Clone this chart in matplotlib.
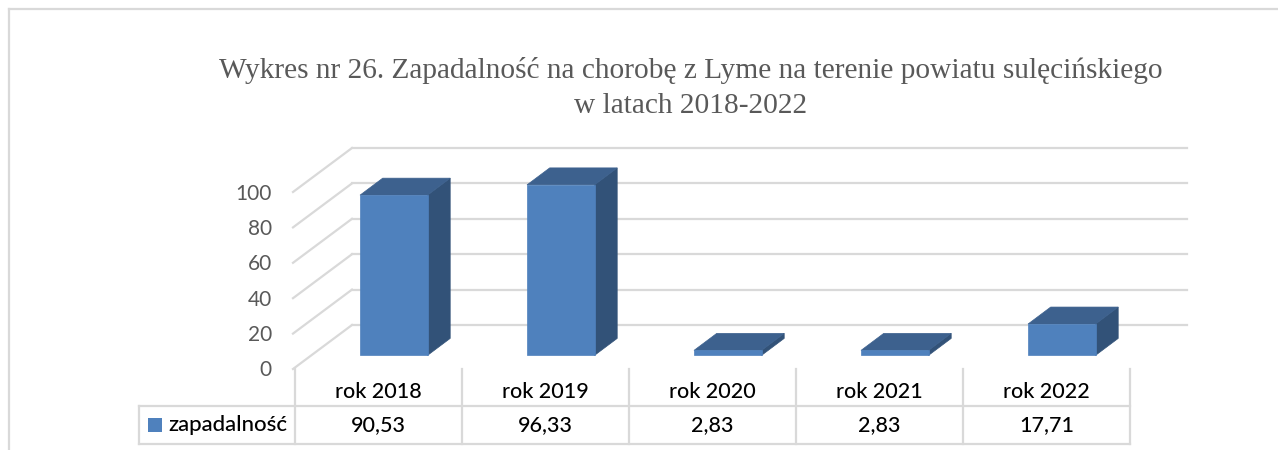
import matplotlib
matplotlib.use("Agg")
import matplotlib.pyplot as plt
from matplotlib.patches import Polygon

categories = ["rok 2018", "rok 2019", "rok 2020", "rok 2021", "rok 2022"]
values = [90.53, 96.33, 2.83, 2.83, 17.71]
value_labels = ["90,53", "96,33", "2,83", "2,83", "17,71"]
yticks = [0, 20, 40, 60, 80, 100]
series_name = "zapadalność"
title = "Wykres nr 26. Zapadalność na chorobę z Lyme na terenie powiatu sulęcińskiego\nw latach 2018-2022"

front = "#4f81bd"
side = "#325278"
top = "#3d618e"
grid = "#d9d9d9"
gray = "#595959"

W, H = 1278, 450
fig = plt.figure(figsize=(W / 100, H / 100), dpi=100)

# axes = front plane of the 3d box, depth is added by hand
ax = fig.add_axes([295 / W, (H - 369) / H, 835 / W, 177 / H])
ax.set_xlim(0, 5)
ax.set_ylim(0, 100)
ax.axis("off")

ux = 167.0   # px per category
uy = 1.77    # px per value unit

wall_dx = 57 / ux
wall_dy = 44 / uy
wall_end = (1187 - 295) / ux

for t in yticks:
    ax.plot([-2 / ux, wall_dx], [t, t + wall_dy], color=grid, lw=1.6, clip_on=False, zorder=1)
    ax.plot([wall_dx, wall_end], [t + wall_dy, t + wall_dy], color=grid, lw=1.6, clip_on=False, zorder=1)
    ax.text(-23 / ux, t - 1.5 / uy, str(t), ha="right", va="center", fontsize=15, color=gray, family="Lato")

bar_w = 67.5 / ux
bar_off = 65 / ux
base = 13.6 / uy
dx = 22.7 / ux
dy = 17 / uy

for i, v in enumerate(values):
    x0 = i + bar_off
    x1 = x0 + bar_w
    y0 = base
    y1 = base + v
    ax.add_patch(Polygon([(x1, y0), (x1 + dx, y0 + dy), (x1 + dx, y1 + dy), (x1, y1)],
                         fc=side, ec=side, lw=0.5, clip_on=False, zorder=3))
    ax.add_patch(Polygon([(x0, y1), (x1, y1), (x1 + dx, y1 + dy), (x0 + dx, y1 + dy)],
                         fc=top, ec=top, lw=0.5, clip_on=False, zorder=3))
    ax.add_patch(Polygon([(x0, y0), (x1, y0), (x1, y1), (x0, y1)],
                         fc=front, ec=front, lw=0.5, clip_on=False, zorder=4))

# data table under the chart
row1 = (369 - 406) / uy
row2 = (369 - 444) / uy
left = (139 - 295) / ux
ax.plot([left, 5], [row1, row1], color=grid, lw=1.6, clip_on=False)
ax.plot([left, 5], [row2, row2], color=grid, lw=1.6, clip_on=False)
ax.plot([left, left], [row1, row2], color=grid, lw=1.6, clip_on=False)
for i in range(6):
    ax.plot([i, i], [0, row2], color=grid, lw=1.6, clip_on=False)

for i, (c, s) in enumerate(zip(categories, value_labels)):
    ax.text(i + 0.5, (369 - 392) / uy, c, ha="center", va="center", fontsize=15.5, color="black",
            family="Lato", weight="medium")
    ax.text(i + 0.5, (369 - 425) / uy, s, ha="center", va="center", fontsize=15.5, color="black",
            family="Lato", weight="medium")

ax.add_patch(Polygon([((148 - 295) / ux, (369 - 418) / uy), ((162 - 295) / ux, (369 - 418) / uy),
                      ((162 - 295) / ux, (369 - 432) / uy), ((148 - 295) / ux, (369 - 432) / uy)],
                     fc=front, ec=front, lw=0, clip_on=False))
ax.text((168 - 295) / ux, (369 - 425) / uy, series_name, ha="left", va="center", fontsize=16, color="black",
        family="Lato", weight="medium")

# outer frame of the chart, only top and left are visible
fig.add_artist(plt.Line2D([9 / W, 1], [1 - 9 / H, 1 - 9 / H], color=grid, lw=1.6))
fig.add_artist(plt.Line2D([9 / W, 9 / W], [0, 1 - 9 / H], color=grid, lw=1.6))

fig.text(691 / W, 1 - 88 / H, title, ha="center", va="center", fontsize=21.2, color=gray,
         family="Liberation Serif", linespacing=1.43)

fig.savefig("out.png", dpi=100)
